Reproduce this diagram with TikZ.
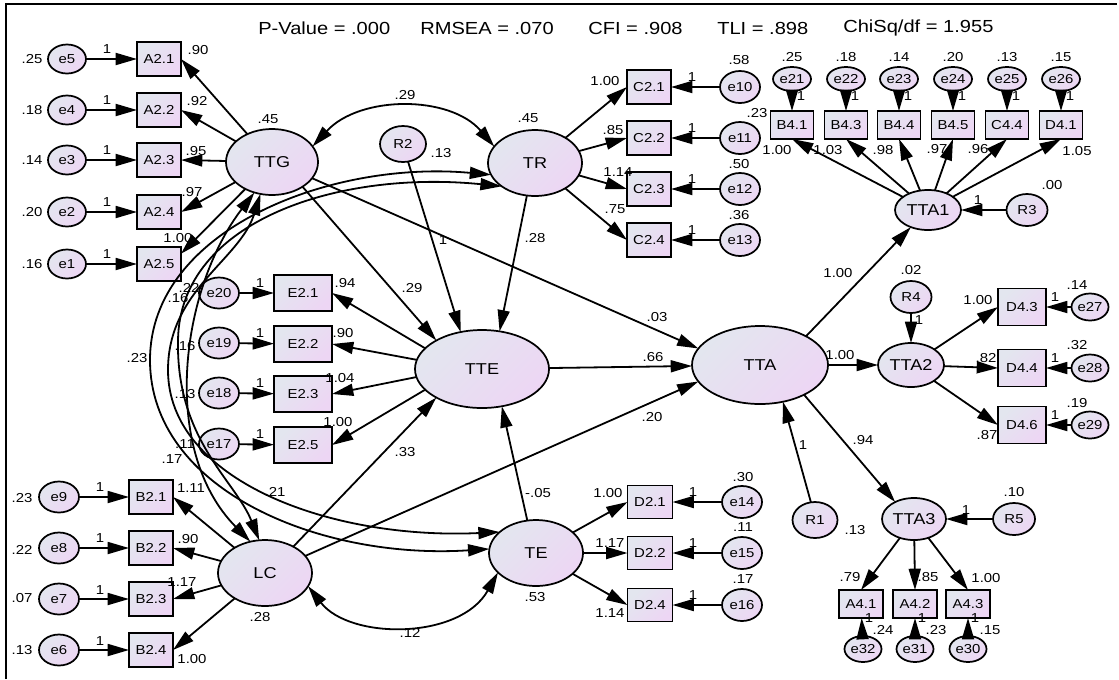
\documentclass[tikz,border=0pt]{standalone}
\usepackage{fontspec}
\setmainfont{Liberation Sans}[FakeStretch=1.15]
\usetikzlibrary{arrows.meta,shapes.geometric}
\definecolor{fillA}{RGB}{227,230,239}
\definecolor{fillB}{RGB}{237,214,244}
\tikzset{
  sz/.style 2 args={minimum width=#1*0.75pt, minimum height=#2*0.75pt},
  var/.style={draw=black, line width=1.3pt, top color=fillA, bottom color=fillB,
              shading angle=45, inner sep=0pt, outer sep=0pt},
  lat/.style={var, ellipse, font=\fontsize{11.8}{12}\selectfont},
  err/.style={var, ellipse, font=\fontsize{9.75}{10}\selectfont},
  obs/.style={var, rectangle, font=\fontsize{9.75}{10}\selectfont},
  num/.style={inner sep=0pt, font=\fontsize{9.75}{10}\selectfont},
  ttl/.style={inner sep=0pt, anchor=west, font=\fontsize{13.1}{14}\selectfont},
  amostip/.tip={Triangle[length=16pt,width=9pt]},
  arr/.style={line width=1.35pt, -{amostip}},
  cov/.style={line width=1.35pt, {amostip}-{amostip}},
  eL/.style={err, sz={38}{29}},
  eS/.style={err, sz={38}{24}},
  eM/.style={err, sz={40}{32}},
  bx/.style={obs, sz={44}{34}},
}
\newcommand\numlab[3]{\node[num] (#1) at (#2) {#3};}

\begin{document}
\begin{tikzpicture}[x=0.75pt,y=-0.75pt]
\useasboundingbox (0,0) rectangle (1119,679);
% frame
\coordinate (fa) at (6,679); \coordinate (fb) at (6,4); \coordinate (fc) at (1117,4);
\draw[line width=1.5pt] (fa) -- (fb) -- (fc);

% fit indices
\node[ttl] (t1) at (258,28) {P-Value = .000};
\node[ttl] (t2) at (420,28) {RMSEA = .070};
\node[ttl] (t3) at (588,28) {CFI = .908};
\node[ttl] (t4) at (717,28) {TLI = .898};
\node[ttl] (t5) at (843,28) {ChiSq/df = 1.955};

% latent variables
\node[lat,sz={92}{66}]  (TTG)  at (272,162) {TTG};
\node[lat,sz={94}{66}]  (TR)   at (535,163) {TR};
\node[lat,sz={134}{78}] (TTE)  at (482,369) {TTE};
\node[lat,sz={136}{78}] (TTA)  at (760,365) {TTA};
\node[lat,sz={94}{66}]  (LC)   at (265,573) {LC};
\node[lat,sz={94}{66}]  (TE)   at (536,553) {TE};
\node[lat,sz={66}{40}]  (TTA1) at (928,210) {TTA1};
\node[lat,sz={66}{44}]  (TTA2) at (911,365) {TTA2};
\node[lat,sz={64}{42}]  (TTA3) at (914,519) {TTA3};

% residuals
\node[err,sz={46}{36}] (R2) at (403,144) {R2};
\node[err,sz={41}{32}] (R3) at (1027,210) {R3};
\node[err,sz={41}{32}] (R4) at (911,297) {R4};
\node[err,sz={42}{32}] (R5) at (1014,519) {R5};
\node[err,sz={45}{36}] (R1) at (815,520) {R1};

% TTG indicators
\node[eL] (e5) at (67,59)  {e5};
\node[eL] (e4) at (67,110) {e4};
\node[eL] (e3) at (67,160) {e3};
\node[eL] (e2) at (67,212) {e2};
\node[eL] (e1) at (67,264) {e1};
\node[bx] (A21) at (159,59)  {A2.1};
\node[bx] (A22) at (159,110) {A2.2};
\node[bx] (A23) at (159,160) {A2.3};
\node[bx] (A24) at (159,212) {A2.4};
\node[bx] (A25) at (159,264) {A2.5};

% TTE indicators
\node[eL,sz={40}{31}] (e20) at (219,293) {e20};
\node[eL,sz={40}{31}] (e19) at (219,343) {e19};
\node[eL,sz={40}{31}] (e18) at (219,393) {e18};
\node[eL,sz={40}{31}] (e17) at (219,444) {e17};
\node[obs,sz={58}{36}] (E21) at (303,293) {E2.1};
\node[obs,sz={58}{36}] (E22) at (303,344) {E2.2};
\node[obs,sz={58}{36}] (E23) at (303,394) {E2.3};
\node[obs,sz={58}{36}] (E25) at (303,445) {E2.5};

% LC indicators
\node[eL,sz={40}{31}] (e9) at (59,497) {e9};
\node[eL,sz={40}{31}] (e8) at (59,548) {e8};
\node[eL,sz={40}{31}] (e7) at (59,599) {e7};
\node[eL,sz={40}{31}] (e6) at (59,650) {e6};
\node[bx] (B21) at (151,497) {B2.1};
\node[bx] (B22) at (151,548) {B2.2};
\node[bx] (B23) at (151,599) {B2.3};
\node[bx] (B24) at (151,650) {B2.4};

% TR indicators
\node[bx] (C21) at (649,87)  {C2.1};
\node[bx] (C22) at (649,138) {C2.2};
\node[bx] (C23) at (649,189) {C2.3};
\node[bx] (C24) at (649,240) {C2.4};
\node[eM] (e10) at (740,87)  {e10};
\node[eM] (e11) at (740,138) {e11};
\node[eM] (e12) at (740,189) {e12};
\node[eM] (e13) at (740,240) {e13};

% TE indicators
\node[obs,sz={45}{33}] (D21) at (650,502) {D2.1};
\node[obs,sz={45}{33}] (D22) at (650,553) {D2.2};
\node[obs,sz={45}{33}] (D24) at (650,605) {D2.4};
\node[eM] (e14) at (742,502) {e14};
\node[eM] (e15) at (742,553) {e15};
\node[eM] (e16) at (742,605) {e16};

% TTA1 indicators
\node[obs,sz={43}{28}] (B41) at (792,125)  {B4.1};
\node[obs,sz={43}{28}] (B43) at (846,125)  {B4.3};
\node[obs,sz={43}{28}] (B44) at (899,125)  {B4.4};
\node[obs,sz={43}{28}] (B45) at (953,125)  {B4.5};
\node[obs,sz={43}{28}] (C44) at (1007,125) {C4.4};
\node[obs,sz={43}{28}] (D41) at (1061,125) {D4.1};
\node[eS] (e21) at (792,79)  {e21};
\node[eS] (e22) at (846,79)  {e22};
\node[eS] (e23) at (899,79)  {e23};
\node[eS] (e24) at (953,79)  {e24};
\node[eS] (e25) at (1007,79) {e25};
\node[eS] (e26) at (1061,79) {e26};

% TTA2 indicators
\node[obs,sz={48}{37}] (D43) at (1022,307) {D4.3};
\node[obs,sz={48}{37}] (D44) at (1022,368) {D4.4};
\node[obs,sz={48}{37}] (D46) at (1022,425) {D4.6};
\node[err,sz={37}{27}] (e27) at (1090,307) {e27};
\node[err,sz={37}{27}] (e28) at (1090,368) {e28};
\node[err,sz={37}{27}] (e29) at (1090,425) {e29};

% TTA3 indicators
\node[obs,sz={44}{28}] (A41) at (861,604) {A4.1};
\node[obs,sz={44}{28}] (A42) at (915,604) {A4.2};
\node[obs,sz={44}{28}] (A43) at (968,604) {A4.3};
\node[err,sz={37}{26}] (e32) at (863,649) {e32};
\node[err,sz={37}{26}] (e31) at (915,649) {e31};
\node[err,sz={37}{26}] (e30) at (968,649) {e30};

% measurement paths
\foreach \i/\j in {e5/A21,e4/A22,e3/A23,e2/A24,e1/A25,
                   e20/E21,e19/E22,e18/E23,e17/E25,
                   e9/B21,e8/B22,e7/B23,e6/B24,
                   e10/C21,e11/C22,e12/C23,e13/C24,
                   e14/D21,e15/D22,e16/D24,
                   e21/B41,e22/B43,e23/B44,e24/B45,e25/C44,e26/D41,
                   e27/D43,e28/D44,e29/D46,
                   e32/A41,e31/A42,e30/A43}
  \draw[arr] (\i) -- (\j);
\draw[arr] (TTG) -- (A21.east);
\draw[arr] (TTG) -- (A22.east);
\draw[arr] (TTG) -- (A23.east);
\draw[arr] (TTG) -- (A24.east);
\draw[arr] (TTG) -- (A25.25);
\draw[arr] (TTE.160) -- (E21.east);
\draw[arr] (TTE.172) -- (E22.east);
\draw[arr] (TTE.187) -- (E23.east);
\draw[arr] (TTE.200) -- (E25.east);
\foreach \j in {B21,B22,B23,B24} \draw[arr] (LC) -- (\j.east);
\foreach \j in {C21,C22,C23,C24} \draw[arr] (TR) -- (\j.west);
\foreach \j in {D21,D22,D24} \draw[arr] (TE) -- (\j.west);
\foreach \j in {B41,B43,B44,B45,C44,D41} \draw[arr] (TTA1) -- (\j.south);
\foreach \j in {D43,D44,D46} \draw[arr] (TTA2) -- (\j.west);
\foreach \j in {A41,A42,A43} \draw[arr] (TTA3) -- (\j.north);
\draw[arr] (R3) -- (TTA1);
\draw[arr] (R4) -- (TTA2);
\draw[arr] (R5) -- (TTA3);

% structural paths
\draw[arr] (TTA.32) -- (TTA1.225);
\draw[arr] (TTA) -- (TTA2);
\draw[arr] (TTA.-34) -- (TTA3.138);
\draw[arr] (R1.103) -- (TTA.-58);
\draw[arr] (R2.-74) -- (TTE.120);
\draw[arr] (TR.-104) -- (TTE.65);
\draw[arr] (TTG.-39) -- (TTE.148);
\draw[arr] (LC.43) -- (TTE.212);
\draw[arr] (TE.105) -- (TTE.-62);
\draw[arr] (TTG.-22) -- (TTA.165);
\draw[arr] (TTE) -- (TTA);
\draw[arr] (LC.23) -- (TTA.195);

% covariances
\draw[cov] (TTG.21) .. controls (360,95) and (450,95) .. (TR.158);
\draw[cov] (LC.-17) .. controls (350,640) and (460,640) .. (TE.207);
\draw[cov] (TR.195) .. controls (330,160) and (150,230) .. (150,360)
                    .. controls (150,490) and (320,560) .. (TE.175);
\draw[cov] (TTG.250) .. controls (240,260) and (168,290) .. (168,370)
                     .. controls (168,480) and (330,540) .. (TE.150);
\draw[cov] (TTG.240) .. controls (180,290) and (160,450) .. (LC.115);
\draw[cov] (TR.215) .. controls (340,170) and (180,220) .. (178,340)
                    .. controls (176,440) and (235,480) .. (LC.100);

% estimates: TTG block
\numlab{vE5}{32,59}{.25}
\numlab{vE4}{32,110}{.18}
\numlab{vE3}{32,160}{.14}
\numlab{vE2}{32,212}{.20}
\numlab{vE1}{32,264}{.16}
\numlab{o5}{107,49}{1}
\numlab{o4}{107,100}{1}
\numlab{o3}{107,150}{1}
\numlab{o2}{107,202}{1}
\numlab{o1}{107,254}{1}
\numlab{lA21}{198,50}{.90}
\numlab{lA22}{197,101}{.92}
\numlab{lA23}{196,151}{.95}
\numlab{lA24}{192,192}{.97}
\numlab{lA25}{178,238}{1.00}
\numlab{vTTG}{268,119}{.45}
\numlab{vTR}{528,118}{.45}
\numlab{vR2}{441,153}{.13}
\numlab{cTTGTR}{405,95}{.29}

% estimates: TTE block
\numlab{vE20}{178,298}{.16}
\numlab{vE19}{185,346}{.16}
\numlab{vE18}{185,394}{.13}
\numlab{vE17}{185,444}{.11}
\numlab{o20}{260,283}{1}
\numlab{o19}{260,333}{1}
\numlab{o18}{260,383}{1}
\numlab{o17}{260,434}{1}
\numlab{lE21}{345,283}{.94}
\numlab{lE22}{343,333}{.90}
\numlab{lE23}{340,378}{1.04}
\numlab{lE25}{338,422}{1.00}
\numlab{cA}{189,288}{.22}
\numlab{cB}{137,358}{.23}
\numlab{cC}{172,459}{.17}
\numlab{cD}{275,492}{.21}

% estimates: LC block
\numlab{vE9}{22,498}{.23}
\numlab{vE8}{22,550}{.22}
\numlab{vE7}{22,598}{.07}
\numlab{vE6}{22,650}{.13}
\numlab{o9}{100,487}{1}
\numlab{o8}{100,538}{1}
\numlab{o7}{100,590}{1}
\numlab{o6}{100,641}{1}
\numlab{lB21}{191,488}{1.11}
\numlab{lB22}{188,539}{.90}
\numlab{lB23}{182,582}{1.17}
\numlab{lB24}{192,659}{1.00}
\numlab{vLC}{260,617}{.28}

% estimates: structural part
\numlab{pTTGTTE}{412,288}{.29}
\numlab{pR2}{443,240}{1}
\numlab{pTR}{535,238}{.28}
\numlab{pLC}{405,452}{.33}
\numlab{pTE}{538,493}{-.05}
\numlab{pTTGTTA}{657,317}{.03}
\numlab{pTTE}{653,357}{.66}
\numlab{pLCTTA}{652,417}{.20}
\numlab{vTE}{535,597}{.53}
\numlab{cLCTE}{410,633}{.12}

% estimates: TR block
\numlab{vE10}{739,60}{.58}
\numlab{vE12}{739,164}{.50}
\numlab{vE13}{739,215}{.36}
\numlab{o10}{692,77}{1}
\numlab{o11}{692,128}{1}
\numlab{o12}{692,179}{1}
\numlab{o13}{692,230}{1}
\numlab{lC21}{605,81}{1.00}
\numlab{lC22}{613,130}{.85}
\numlab{lC23}{618,172}{1.14}
\numlab{lC24}{615,209}{.75}

% estimates: TE block
\numlab{vE14}{743,477}{.30}
\numlab{vE15}{743,527}{.11}
\numlab{vE16}{743,579}{.17}
\numlab{o14}{693,492}{1}
\numlab{o15}{693,543}{1}
\numlab{o16}{693,595}{1}
\numlab{lD21}{608,493}{1.00}
\numlab{lD22}{610,543}{1.17}
\numlab{lD24}{610,613}{1.14}

% estimates: TTA1 block
\numlab{vE21}{792,57}{.25}
\numlab{vE22}{846,57}{.18}
\numlab{vE23}{899,57}{.14}
\numlab{vE24}{953,57}{.20}
\numlab{vE25}{1007,57}{.13}
\numlab{vE26}{1061,57}{.15}
\numlab{o21}{801,96}{1}
\numlab{o22}{855,96}{1}
\numlab{o23}{908,96}{1}
\numlab{o24}{962,96}{1}
\numlab{o25}{1016,96}{1}
\numlab{o26}{1070,96}{1}
\numlab{vTTA1}{757,113}{.23}
\numlab{lB41}{777,150}{1.00}
\numlab{lB43}{828,150}{1.03}
\numlab{lB44}{883,150}{.98}
\numlab{lB45}{937,149}{.97}
\numlab{lC44}{978,149}{.96}
\numlab{lD41}{1077,151}{1.05}
\numlab{vR3}{1052,185}{.00}
\numlab{oR3}{978,200}{1}
\numlab{lTTA1}{838,273}{1.00}

% estimates: TTA2 block
\numlab{lTTA2}{840,355}{1.00}
\numlab{vR4}{911,270}{.02}
\numlab{oR4}{919,320}{1}
\numlab{vE27}{1077,285}{.14}
\numlab{vE28}{1077,345}{.32}
\numlab{vE29}{1077,403}{.19}
\numlab{o27}{1055,297}{1}
\numlab{o28}{1055,358}{1}
\numlab{o29}{1055,415}{1}
\numlab{lD43}{978,300}{1.00}
\numlab{lD44}{986,358}{.82}
\numlab{lD46}{987,435}{.87}

% estimates: TTA3 block
\numlab{vR5}{1014,492}{.10}
\numlab{oR5}{966,510}{1}
\numlab{lTTA3}{863,440}{.94}
\numlab{lA41}{850,577}{.79}
\numlab{lA42}{928,577}{.85}
\numlab{lA43}{986,578}{1.00}
\numlab{o32}{869,618}{1}
\numlab{o31}{922,618}{1}
\numlab{o30}{975,618}{1}
\numlab{vE32}{883,630}{.24}
\numlab{vE31}{936,630}{.23}
\numlab{vE30}{990,630}{.15}
\numlab{vR1}{855,530}{.13}
\numlab{oR1}{803,445}{1}
\end{tikzpicture}
\end{document}
